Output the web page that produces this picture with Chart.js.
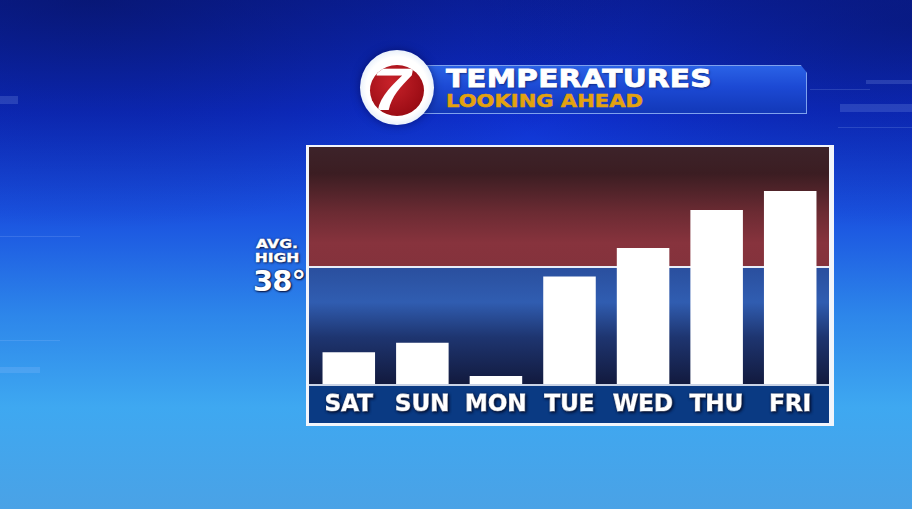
<!DOCTYPE html>
<html>
<head>
<meta charset="utf-8">
<script src="https://cdn.jsdelivr.net/npm/chart.js@4.4.1/dist/chart.umd.min.js"></script>
<style>
  html, body { margin: 0; padding: 0; }
  body {
    width: 912px; height: 509px; overflow: hidden; position: relative;
    font-family: "DejaVu Sans", sans-serif;
    background:
      radial-gradient(ellipse 60% 45% at 10% 0%, rgba(5,15,80,0.55), rgba(5,15,80,0) 100%),
      radial-gradient(ellipse 50% 40% at 100% 5%, rgba(5,15,80,0.45), rgba(5,15,80,0) 100%),
      linear-gradient(180deg, #0b21a6 0%, #0e2fd2 22%, #1a52e0 42%, #2d86ea 62%, #3ea8f1 80%, #4aa2e6 100%);
  }
  .deco { position: absolute; background: rgba(170,200,255,0.18); }
  #banner {
    position: absolute; left: 420px; top: 65px; width: 386px; height: 47px;
    background: linear-gradient(180deg, #2a62e6 0%, #1c49d4 45%, #1238b8 100%);
    border: 1px solid #7fa2ee; border-left: none;
    clip-path: polygon(0 0, 98.4% 0, 100% 16%, 100% 100%, 0 100%);
    box-shadow: 0 0 6px rgba(0,0,40,0.5);
  }
  #title1 {
    position: absolute; left: 446px; top: 64px; color: #fff;
    font-weight: bold; font-size: 25px; letter-spacing: 0.2px;
    -webkit-text-stroke: 0.8px #fff;
    transform: scaleX(1.18); transform-origin: left top;
    text-shadow: 1px 1px 2px rgba(0,0,40,0.6);
  }
  #title2 {
    position: absolute; left: 446px; top: 90px; color: #e3a20f;
    font-weight: bold; font-size: 18px;
    -webkit-text-stroke: 0.5px #e3a20f;
    transform: scaleX(1.17); transform-origin: left top;
  }
  #logo {
    position: absolute; left: 360px; top: 50px; width: 74px; height: 75px; border-radius: 50%;
    background: radial-gradient(circle at 50% 50%, #ffffff 58%, #dbe7f7 80%, #b3cdf0 100%);
    box-shadow: 0 0 8px rgba(0,0,60,0.5);
  }
  #logoIn {
    position: absolute; left: 10px; top: 15px; width: 54px; height: 51px; border-radius: 50%;
    background: radial-gradient(circle at 40% 35%, #c8222a, #9a0c14 75%, #6e070c);
    overflow: hidden;
  }
  #seven {
    position: absolute; left: 6px; top: -5px; color: #fff; font-weight: bold;
    font-size: 60px; font-family: "Liberation Sans", sans-serif; line-height: 1;
    transform: skewX(-10deg) scaleX(1.25); transform-origin: left top;
  }
  .avg {
    position: absolute; color: #fff; font-weight: bold; text-align: center;
    text-shadow: 0 0 2px #0a1440, 1px 1px 2px #0a1440;
    font-family: "DejaVu Sans", sans-serif;
  }
  #chartBox { position: absolute; left: 306px; top: 145px; width: 528px; height: 281px; }
</style>
</head>
<body>
<div class="deco" style="left:0;top:96px;width:18px;height:8px"></div>
<div class="deco" style="left:0;top:236px;width:80px;height:1px"></div>
<div class="deco" style="left:0;top:340px;width:60px;height:1px"></div>
<div class="deco" style="left:0;top:367px;width:40px;height:6px"></div>
<div class="deco" style="left:866px;top:80px;width:46px;height:4px"></div>
<div class="deco" style="left:840px;top:104px;width:72px;height:8px"></div>
<div class="deco" style="left:838px;top:127px;width:74px;height:1px"></div>
<div class="deco" style="left:810px;top:89px;width:60px;height:1px"></div>

<div id="banner"></div>
<div id="logo"><div id="logoIn"><div id="seven">7</div></div></div>
<div id="title1">TEMPERATURES</div>
<div id="title2">LOOKING AHEAD</div>

<div class="avg" style="left:253px;top:237px;width:48px;font-size:13px;line-height:14px;transform:scaleX(1.2);-webkit-text-stroke:0.4px #fff">AVG.<br>HIGH</div>
<div class="avg" style="left:251px;top:266px;width:56px;font-size:29px;line-height:30px;letter-spacing:-1px">38°</div>

<div id="chartBox"><canvas id="temps" width="528" height="281"></canvas></div>

<script>
const days = ['SAT', 'SUN', 'MON', 'TUE', 'WED', 'THU', 'FRI'];
const highs = [20, 22, 15, 36, 42, 50, 54];
const avgHigh = 38;
const yMin = 13.3;
const yMax = 63.3;

const panelBg = {
    id: 'panelBg',
    beforeDraw(chart) {
        const { ctx, chartArea: a, scales: { y } } = chart;
        const W = chart.width, H = chart.height;
        const yAvg = y.getPixelForValue(avgHigh);
        const x0 = 3, x1 = W - 5, y0 = 2, y1 = H - 3;

        ctx.save();
        // white frame
        ctx.fillStyle = '#f2f5fb';
        ctx.fillRect(0, 0, W, H);

        // above average: red
        let g = ctx.createLinearGradient(0, y0, 0, yAvg);
        g.addColorStop(0, '#3d232a');
        g.addColorStop(0.22, '#3b1d22');
        g.addColorStop(0.55, '#6c2b33');
        g.addColorStop(0.8, '#87333d');
        g.addColorStop(1, '#84323c');
        ctx.fillStyle = g;
        ctx.fillRect(x0, y0, x1 - x0, yAvg - y0);

        // below average: blue
        g = ctx.createLinearGradient(0, yAvg, 0, a.bottom);
        g.addColorStop(0, '#2a4f9e');
        g.addColorStop(0.3, '#305db1');
        g.addColorStop(0.6, '#1e3570');
        g.addColorStop(1, '#121a3e');
        ctx.fillStyle = g;
        ctx.fillRect(x0, yAvg, x1 - x0, a.bottom - yAvg);

        // label band
        ctx.fillStyle = '#0a3a83';
        ctx.fillRect(x0, a.bottom + 2, x1 - x0, y1 - a.bottom - 2);

        // average line and baseline
        ctx.fillStyle = '#e8edf8';
        ctx.fillRect(x0, Math.round(yAvg) - 1, x1 - x0, 2);
        ctx.fillStyle = '#c9d3e6';
        ctx.fillRect(x0, a.bottom, x1 - x0, 2);
        ctx.restore();

        // shadow for the day labels, removed before the bars
        ctx.save();
        ctx.shadowColor = 'rgba(0,5,30,0.95)';
        ctx.shadowBlur = 3;
        ctx.shadowOffsetX = 1;
        ctx.shadowOffsetY = 1;
    },
    beforeDatasetsDraw(chart) {
        chart.ctx.restore();
    }
};

new Chart(document.getElementById('temps').getContext('2d'), {
    type: 'bar',
    data: {
        labels: days,
        datasets: [{
            data: highs,
            backgroundColor: '#ffffff',
            borderWidth: 0,
            categoryPercentage: 1,
            barPercentage: 0.714
        }]
    },
    options: {
        responsive: false,
        animation: false,
        layout: { padding: { left: 6, right: 7, top: 2, bottom: 0 } },
        plugins: { legend: { display: false }, tooltip: { enabled: false } },
        scales: {
            x: {
                grid: { display: false, drawTicks: false },
                border: { display: false },
                afterFit: scale => { scale.height = 42; },
                ticks: {
                    color: '#ffffff',
                    padding: 7,
                    textStrokeColor: '#ffffff',
                    textStrokeWidth: 1,
                    font: { family: 'DejaVu Sans', weight: 'bold', size: 23 }
                }
            },
            y: {
                display: false,
                min: yMin,
                max: yMax
            }
        }
    },
    plugins: [panelBg]
});
</script>
</body>
</html>
